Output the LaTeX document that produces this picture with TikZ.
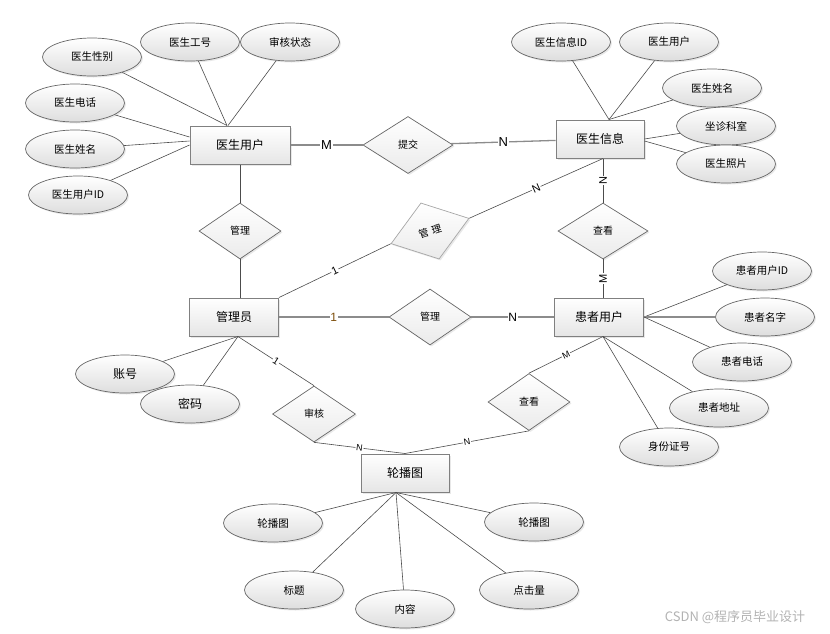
\documentclass[tikz,border=0pt]{standalone}
\usepackage{fontspec}
\setmainfont{Liberation Sans}
\newfontfamily\cjk{Noto Sans CJK SC}
\usetikzlibrary{shapes.geometric,shadows}

\definecolor{onebrown}{RGB}{125,78,10}

\tikzset{
  softshadow/.style={drop shadow={opacity=0.18, shadow xshift=1.5pt, shadow yshift=-1.5pt}},
  entity/.style={draw=black!50, line width=1pt, top color=white, bottom color=black!10,
    minimum width=88pt, minimum height=38pt, inner sep=0pt,
    font=\cjk\fontsize{12}{12}\selectfont, softshadow},
  attr/.style={ellipse, draw=black!60, line width=0.7pt, top color=white, bottom color=black!13,
    minimum width=99pt, minimum height=38pt, inner sep=0pt,
    font=\cjk\fontsize{10.5}{10.5}\selectfont, softshadow},
  relation/.style={diamond, draw=black!60, line width=0.7pt, top color=white, bottom color=black!8,
    minimum width=82pt, minimum height=56pt, inner sep=0pt,
    font=\cjk\fontsize{10}{10}\selectfont, softshadow},
  conn/.style={draw=black!70, line width=0.6pt},
  bigconn/.style={draw=black!45, line width=1.3pt},
  cardlabel/.style={fill=white, inner sep=0.8pt, font=\fontsize{10}{10}\selectfont},
}

\begin{document}
\begin{tikzpicture}[x=1pt, y=-1pt]
  \useasboundingbox (0,0) rectangle (830,633);

  % --- STEP 1: ENTITIES ---
  \node[entity, minimum width=100pt] (ysyh) at (240,145) {医生用户};
  \node[entity] (ysxx) at (600,139) {医生信息};
  \node[entity, minimum width=89pt] (gly) at (234,317) {管理员};
  \node[entity, minimum width=89pt] (hzyh) at (599,317) {患者用户};
  \node[entity] (lbt) at (405,473) {轮播图};

  % --- STEP 2: RELATIONS ---
  \node[relation, minimum width=90pt, minimum height=57pt] (tj) at (408,145) {提交};
  \node[relation] (gl1) at (240,231) {管理};
  \node[relation, rotate=18, minimum height=59pt, draw=black!35] (gl2) at (430,231) {管\hspace{3.5pt}理};
  \node[relation, minimum width=90pt] (ck1) at (603,231) {查看};
  \node[relation] (gl3) at (430,317) {管理};
  \node[relation, minimum width=83pt] (sh) at (314,414) {审核};
  \node[relation, minimum height=57pt] (ck2) at (529,402) {查看};

  % --- STEP 3: ATTRIBUTES ---
  % A. 医生用户
  \node[attr] (ysxb) at (92,57) {医生性别};
  \node[attr] (ysgh) at (190,42) {医生工号};
  \node[attr] (shzt) at (290,42) {审核状态};
  \node[attr] (ysdh) at (75,103) {医生电话};
  \node[attr] (ysxm) at (75,149) {医生姓名};
  \node[attr] (ysid) at (78,195) {医生用户ID};
  \draw[conn] (ysxb) -- ([xshift=-13pt]ysyh.north);
  \draw[conn] (ysgh) -- ([xshift=-13pt]ysyh.north);
  \draw[conn] (shzt) -- ([xshift=-12pt]ysyh.north);
  \draw[conn] (ysdh) -- ([yshift=8pt]ysyh.west);
  \draw[conn] (ysxm) -- ([yshift=4pt]ysyh.west);
  \draw[conn] (ysid) -- (ysyh.west);

  % B. 医生信息
  \node[attr] (xxid) at (561,42) {医生信息ID};
  \node[attr] (xxyh) at (669,42) {医生用户};
  \node[attr] (xxxm) at (712,88) {医生姓名};
  \node[attr] (zzks) at (726,126) {坐诊科室};
  \node[attr] (yszp) at (726,164) {医生照片};
  \draw[conn] (xxid) -- ([xshift=9pt]ysxx.north);
  \draw[conn] (xxyh) -- ([xshift=9pt]ysxx.north);
  \draw[conn] (xxxm) -- ([xshift=9pt]ysxx.north);
  \draw[conn] (zzks) -- (ysxx.east);
  \draw[conn] (yszp) -- ([yshift=-2pt]ysxx.east);

  % C. 患者用户
  \node[attr] (hzid) at (762,271) {患者用户ID};
  \node[attr] (hzmz) at (765,317) {患者名字};
  \node[attr] (hzdh) at (742,362) {患者电话};
  \node[attr] (hzdz) at (719,408) {患者地址};
  \node[attr] (sfzh) at (669,447) {身份证号};
  \draw[conn] (hzid) -- (hzyh.east);
  \draw[bigconn] (hzmz) -- (hzyh.east);
  \draw[conn] (hzdh) -- (hzyh.east);
  \draw[conn] (hzdz) -- ([xshift=4pt]hzyh.south);
  \draw[conn] (sfzh) -- ([xshift=4pt]hzyh.south);

  % D. 管理员
  \node[attr, font=\cjk\fontsize{12}{12}\selectfont] (zh) at (125,374) {账号};
  \node[attr, font=\cjk\fontsize{12}{12}\selectfont] (mm) at (190,404) {密码};
  \draw[conn] (zh) -- ([xshift=4pt]gly.south);
  \draw[conn] (mm) -- ([xshift=4pt]gly.south);

  % E. 轮播图
  \node[attr] (lbt1) at (273,523) {轮播图};
  \node[attr] (lbt2) at (534,522) {轮播图};
  \node[attr] (bt) at (294,590) {标题};
  \node[attr] (nr) at (405,609) {内容};
  \node[attr] (djl) at (529,590) {点击量};
  \foreach \a in {lbt1,lbt2,bt,nr,djl}
    \draw[conn] (\a) -- ([xshift=-9pt]lbt.south);

  % --- STEP 4: RELATION LINKS WITH CARDINALITIES ---
  \draw[bigconn] (ysyh) -- (tj) node[midway, cardlabel, font=\fontsize{13}{13}\selectfont] {M};
  \draw[bigconn] (tj) -- (ysxx) node[midway, cardlabel, font=\fontsize{13}{13}\selectfont] {N};

  \draw[conn] (ysyh) -- (gl1);
  \draw[conn] (gl1.south) -- (gl1.south |- gly.north);

  \draw[conn] (gly.north east) -- (gl2.west) node[midway, sloped, cardlabel, font=\fontsize{11}{11}\selectfont] {1};
  \draw[conn] (gl2.east) -- ([xshift=3pt]ysxx.south) node[midway, sloped, cardlabel, font=\fontsize{11}{11}\selectfont] {N};

  \draw[conn] (ck1.north |- ysxx.south) -- (ck1.north) node[midway, rotate=90, cardlabel, font=\fontsize{11}{11}\selectfont] {N};
  \draw[conn] (ck1.south) -- (ck1.south |- hzyh.north) node[midway, rotate=90, cardlabel, font=\fontsize{11}{11}\selectfont] {M};

  \draw[bigconn] (gly) -- (gl3) node[midway, cardlabel, text=onebrown, font=\fontsize{12}{12}\selectfont] {1};
  \draw[bigconn] (gl3) -- (hzyh) node[midway, cardlabel, font=\fontsize{12}{12}\selectfont] {N};

  \draw[conn] ([xshift=4pt]gly.south) -- (sh.north) node[midway, sloped, cardlabel] {1};
  \draw[conn] (sh.south) -- (lbt.north) node[midway, sloped, cardlabel, font=\fontsize{9}{9}\selectfont] {N};

  \draw[conn] (lbt.north) -- (ck2.south) node[midway, sloped, cardlabel, font=\fontsize{9}{9}\selectfont] {N};
  \draw[conn] (ck2.north) -- ([xshift=4pt]hzyh.south) node[midway, sloped, cardlabel, font=\fontsize{9}{9}\selectfont] {M};

  % watermark
  \node[text=black!30, font=\cjk\fontsize{13}{13}\selectfont] (wm) at (735,617) {CSDN @程序员毕业设计};
\end{tikzpicture}
\end{document}
